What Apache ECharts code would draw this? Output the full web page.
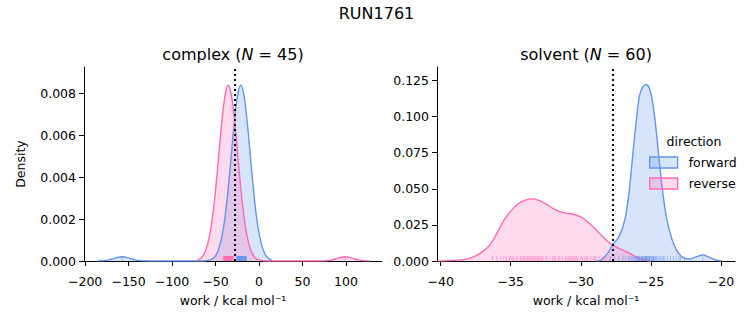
<!DOCTYPE html>
<html>
<head>
<meta charset="utf-8">
<script src="https://cdn.jsdelivr.net/npm/echarts@6/dist/echarts.min.js"></script>
<style>html,body{margin:0;padding:0;background:#fff;}#c{width:753px;height:325px;}</style>
</head>
<body>
<div id="c"></div>
<script>
// ---- data ----
const complexForwardKde = [[-186,0],[-182.5,0.000006],[-177.5,0.000021],[-172.5,0.000056],[-167.5,0.000114],[-162.5,0.000174],[-157.5,0.0002],[-152.5,0.000174],[-147.5,0.000114],[-142.5,0.000056],[-137.5,0.000021],[-132.5,0.000006],[-127,0],[-65,0],[-61,0.000012],[-57,0.00004],[-53,0.00012],[-49,0.00032],[-45,0.00076],[-41,0.00156],[-37,0.00284],[-33,0.00455],[-29,0.00638],[-25,0.00783],[-21,0.0084],[-17,0.00783],[-13,0.00638],[-9,0.00455],[-5,0.00284],[-1,0.00156],[3,0.00076],[7,0.00032],[11,0.00012],[15,0.00004]];
const complexReverseKde = [[-71,0.00003],[-67.4,0.00012],[-63.4,0.00032],[-59.4,0.00076],[-55.4,0.00156],[-51.4,0.00284],[-47.4,0.00455],[-43.4,0.00638],[-39.4,0.00783],[-35.4,0.0084],[-31.4,0.00783],[-27.4,0.00638],[-23.4,0.00455],[-19.4,0.00284],[-15.4,0.00156],[-11.4,0.00076],[-7.4,0.00032],[-3.4,0.00012],[0.6,0.00004],[4.6,0.000012],[10,0],[70,0],[74,0.000006],[79,0.000021],[84,0.000056],[89,0.000114],[94,0.000174],[99,0.0002],[104,0.000174],[109,0.000114],[114,0.000056],[119,0.000021],[124,0.000006],[127,0]];
const solventForwardKde = [[-28.9,0],[-28.6,0.0005],[-28.3,0.003],[-28.0,0.0065],[-27.7,0.0118],[-27.33,0.016],[-27.0,0.0235],[-26.75,0.034],[-26.5,0.0527],[-26.25,0.078],[-26.0,0.101],[-25.8,0.115],[-25.55,0.121],[-25.36,0.122],[-25.12,0.120],[-24.88,0.110],[-24.64,0.092],[-24.4,0.069],[-24.16,0.048],[-23.88,0.0296],[-23.52,0.0157],[-23.17,0.0076],[-22.7,0.0023],[-22.2,0.0014],[-21.75,0.003],[-21.3,0.0042],[-20.9,0.0028],[-20.4,0.0007],[-19.95,0]];
const solventReverseKde = [[-40.1,0],[-39.5,0.0002],[-39.0,0.0004],[-38.5,0.0008],[-38.0,0.0016],[-37.5,0.0035],[-37.0,0.0065],[-36.5,0.011],[-36.0,0.019],[-35.5,0.028],[-35.0,0.0345],[-34.5,0.0395],[-34.0,0.042],[-33.5,0.043],[-33.0,0.042],[-32.5,0.0395],[-32.0,0.0365],[-31.5,0.0342],[-31.0,0.033],[-30.5,0.0322],[-30.0,0.0305],[-29.5,0.027],[-29.0,0.0225],[-28.5,0.0175],[-28.0,0.013],[-27.5,0.0098],[-27.0,0.0076],[-26.5,0.0052],[-26.0,0.0025],[-25.5,0.0006],[-25.2,0.0001],[-25.0,0]];

const complexForwardRug = [-157.5,-25.6,-25.2,-24.8,-24.5,-24.2,-23.9,-23.6,-23.4,-23.1,-22.9,-22.7,-22.5,-22.3,-22.1,-21.9,-21.7,-21.5,-21.3,-21.1,-20.9,-20.7,-20.5,-20.3,-20.1,-19.9,-19.7,-19.5,-19.2,-19.0,-18.7,-18.4,-18.1,-17.8,-17.5,-17.2,-16.9,-16.6,-16.3,-16.0,-15.7,-15.4,-15.1,-14.8,-14.5];
const complexReverseRug = [99,-41.0,-40.6,-40.2,-39.8,-39.5,-39.2,-38.9,-38.6,-38.3,-38.0,-37.7,-37.5,-37.3,-37.1,-36.9,-36.7,-36.5,-36.3,-36.1,-35.9,-35.7,-35.5,-35.3,-35.1,-34.9,-34.7,-34.5,-34.3,-34.1,-33.9,-33.6,-33.3,-33.0,-32.7,-32.4,-32.1,-31.8,-31.5,-31.2,-30.9,-30.6,-30.3,-30.0,-29.7];
const solventForwardRug = [-27.9,-27.6,-27.3,-27.0,-26.8,-26.6,-26.5,-26.4,-26.3,-26.2,-26.1,-26.0,-26.0,-25.9,-25.9,-25.8,-25.8,-25.7,-25.7,-25.6,-25.6,-25.5,-25.5,-25.5,-25.4,-25.4,-25.4,-25.3,-25.3,-25.3,-25.2,-25.2,-25.1,-25.1,-25.0,-25.0,-24.9,-24.9,-24.8,-24.7,-24.7,-24.6,-24.5,-24.4,-24.3,-24.2,-24.1,-24.0,-23.8,-23.6,-23.4,-23.2,-23.0,-22.9,-22.6,-21.3,-25.6,-25.2,-24.8,-25.9];
const solventReverseRug = [-36.3,-36.0,-35.7,-35.5,-35.3,-35.1,-34.9,-34.8,-34.6,-34.5,-34.3,-34.2,-34.0,-33.9,-33.8,-33.7,-33.5,-33.4,-33.3,-33.1,-33.0,-32.9,-32.7,-32.5,-32.4,-32.2,-32.0,-31.8,-31.6,-31.5,-31.3,-31.1,-31.0,-30.8,-30.7,-30.6,-30.5,-30.3,-30.2,-30.0,-29.9,-29.7,-29.5,-29.3,-29.1,-28.9,-28.7,-28.4,-28.2,-27.9,-33.6,-34.1,-32.8,-31.9,-30.4,-29.6,-35.0,-33.2,-30.9,-29.0];

const complexEstimate = -27.6;
const solventEstimate = -27.7;

const complexXTicks = [-200,-150,-100,-50,0,50,100];
const complexYTicks = [0,0.002,0.004,0.006,0.008];
const solventXTicks = [-40,-35,-30,-25,-20];
const solventYTicks = [0,0.025,0.05,0.075,0.1,0.125];

const complexXRange = [-201.3, 141.4];
const complexYMax = 0.00927;
const solventXRange = [-40.26, -19.0];
const solventYMax = 0.1343;

// ---- styling ----
const FONT = 'DejaVu Sans';
const BLUE = '#6495ED', PINK = '#FF69B4';
const fmtX = v => String(v).replace('-', '\u2212');
const fmtY = v => v.toFixed(3);

function xAxis(grid, range, ticks) {
  return {
    type: 'value', gridIndex: grid, min: range[0], max: range[1],
    name: 'work / kcal mol\u207B\u00B9', nameLocation: 'middle', nameGap: 33,
    nameTextStyle: {fontFamily: FONT, fontSize: 12.5, color: '#000'},
    axisLine: {show: true, onZero: false, lineStyle: {color: '#000', width: 1}},
    axisTick: {show: true, length: 5, lineStyle: {color: '#000', width: 1}, customValues: ticks},
    axisLabel: {fontFamily: FONT, fontSize: 12.5, color: '#000', margin: 14, customValues: ticks, formatter: fmtX},
    splitLine: {show: false}
  };
}
function yAxis(grid, max, ticks, name) {
  return {
    type: 'value', gridIndex: grid, min: 0, max: max,
    name: name, nameLocation: 'middle', nameGap: 57, nameRotate: 90,
    nameTextStyle: {fontFamily: FONT, fontSize: 12.5, color: '#000'},
    axisLine: {show: true, onZero: false, lineStyle: {color: '#000', width: 1}},
    axisTick: {show: true, length: 5, lineStyle: {color: '#000', width: 1}, customValues: ticks},
    axisLabel: {fontFamily: FONT, fontSize: 12.5, color: '#000', margin: 8, customValues: ticks, formatter: fmtY},
    splitLine: {show: false}
  };
}
function kde(name, data, color, idx) {
  return {
    name: name, type: 'line', xAxisIndex: idx, yAxisIndex: idx, data: data,
    smooth: 0.35, showSymbol: false, symbol: 'none',
    lineStyle: {color: color, width: 1.4},
    areaStyle: {color: color, opacity: 0.25},
    itemStyle: {color: color}, z: 2
  };
}
function rug(name, values, color, idx) {
  return {
    name: name, type: 'custom', xAxisIndex: idx, yAxisIndex: idx,
    data: values.map(v => [v, 0]), encode: {x: 0, y: 1}, z: 4, silent: true,
    renderItem: (params, api) => {
      const p = api.coord([api.value(0), 0]);
      return {type: 'line', shape: {x1: p[0], y1: p[1], x2: p[0], y2: p[1] - 4.85},
              style: {stroke: color, lineWidth: 1, opacity: 0.5}};
    }
  };
}
function vline(x, ymax, idx) {
  return {
    name: 'estimate' + idx, type: 'line', xAxisIndex: idx, yAxisIndex: idx,
    data: [[x, 0], [x, ymax]], showSymbol: false, symbol: 'none', z: 5, silent: true,
    lineStyle: {color: '#000', width: 2, type: [2, 3], cap: 'butt'}
  };
}

const chart = echarts.init(document.getElementById('c'), null, {renderer: 'svg'});
chart.setOption({
  animation: false,
  backgroundColor: '#fff',
  grid: [
    {left: 84, top: 67, width: 298, height: 194},
    {left: 437, top: 67, width: 298, height: 194}
  ],
  xAxis: [xAxis(0, complexXRange, complexXTicks), xAxis(1, solventXRange, solventXTicks)],
  yAxis: [yAxis(0, complexYMax, complexYTicks, 'Density'), yAxis(1, solventYMax, solventYTicks, '')],
  legend: {
    orient: 'vertical', left: 649, top: 156, padding: 0, itemWidth: 28, itemHeight: 11, itemGap: 8,
    textStyle: {fontFamily: FONT, fontSize: 12.5, color: '#000', padding: [0, 0, 0, 6]},
    selectedMode: false,
    data: [
      {name: 'forward', icon: 'rect', itemStyle: {color: 'rgba(100,149,237,0.25)', borderColor: BLUE, borderWidth: 1.3}},
      {name: 'reverse', icon: 'rect', itemStyle: {color: 'rgba(255,105,180,0.25)', borderColor: PINK, borderWidth: 1.3}}
    ]
  },
  graphic: [
    {type: 'text', x: 376.5, y: 13, style: {text: 'RUN1761', fontFamily: FONT, fontSize: 16, fill: '#000', align: 'center', verticalAlign: 'middle', textAlign: 'center', textVerticalAlign: 'middle'}},
    {type: 'text', x: 233, y: 54, style: {text: 'complex ({i|N} = 45)', fontFamily: FONT, fontSize: 16, fill: '#000', align: 'center', verticalAlign: 'middle', textAlign: 'center', textVerticalAlign: 'middle', rich: {i: {fontFamily: FONT, fontSize: 16, fontStyle: 'italic', fill: '#000'}}}},
    {type: 'text', x: 586, y: 54, style: {text: 'solvent ({i|N} = 60)', fontFamily: FONT, fontSize: 16, fill: '#000', align: 'center', verticalAlign: 'middle', textAlign: 'center', textVerticalAlign: 'middle', rich: {i: {fontFamily: FONT, fontSize: 16, fontStyle: 'italic', fill: '#000'}}}},
    {type: 'text', x: 694, y: 141.5, style: {text: 'direction', fontFamily: FONT, fontSize: 12.5, fill: '#000', align: 'center', verticalAlign: 'middle', textAlign: 'center', textVerticalAlign: 'middle'}}
  ],
  series: [
    kde('forward', complexForwardKde, BLUE, 0),
    kde('reverse', complexReverseKde, PINK, 0),
    kde('forward', solventForwardKde, BLUE, 1),
    kde('reverse', solventReverseKde, PINK, 1),
    rug('rugF0', complexForwardRug, BLUE, 0),
    rug('rugR0', complexReverseRug, PINK, 0),
    rug('rugF1', solventForwardRug, BLUE, 1),
    rug('rugR1', solventReverseRug, PINK, 1),
    vline(complexEstimate, complexYMax, 0),
    vline(solventEstimate, solventYMax, 1)
  ]
});
</script>
</body>
</html>
